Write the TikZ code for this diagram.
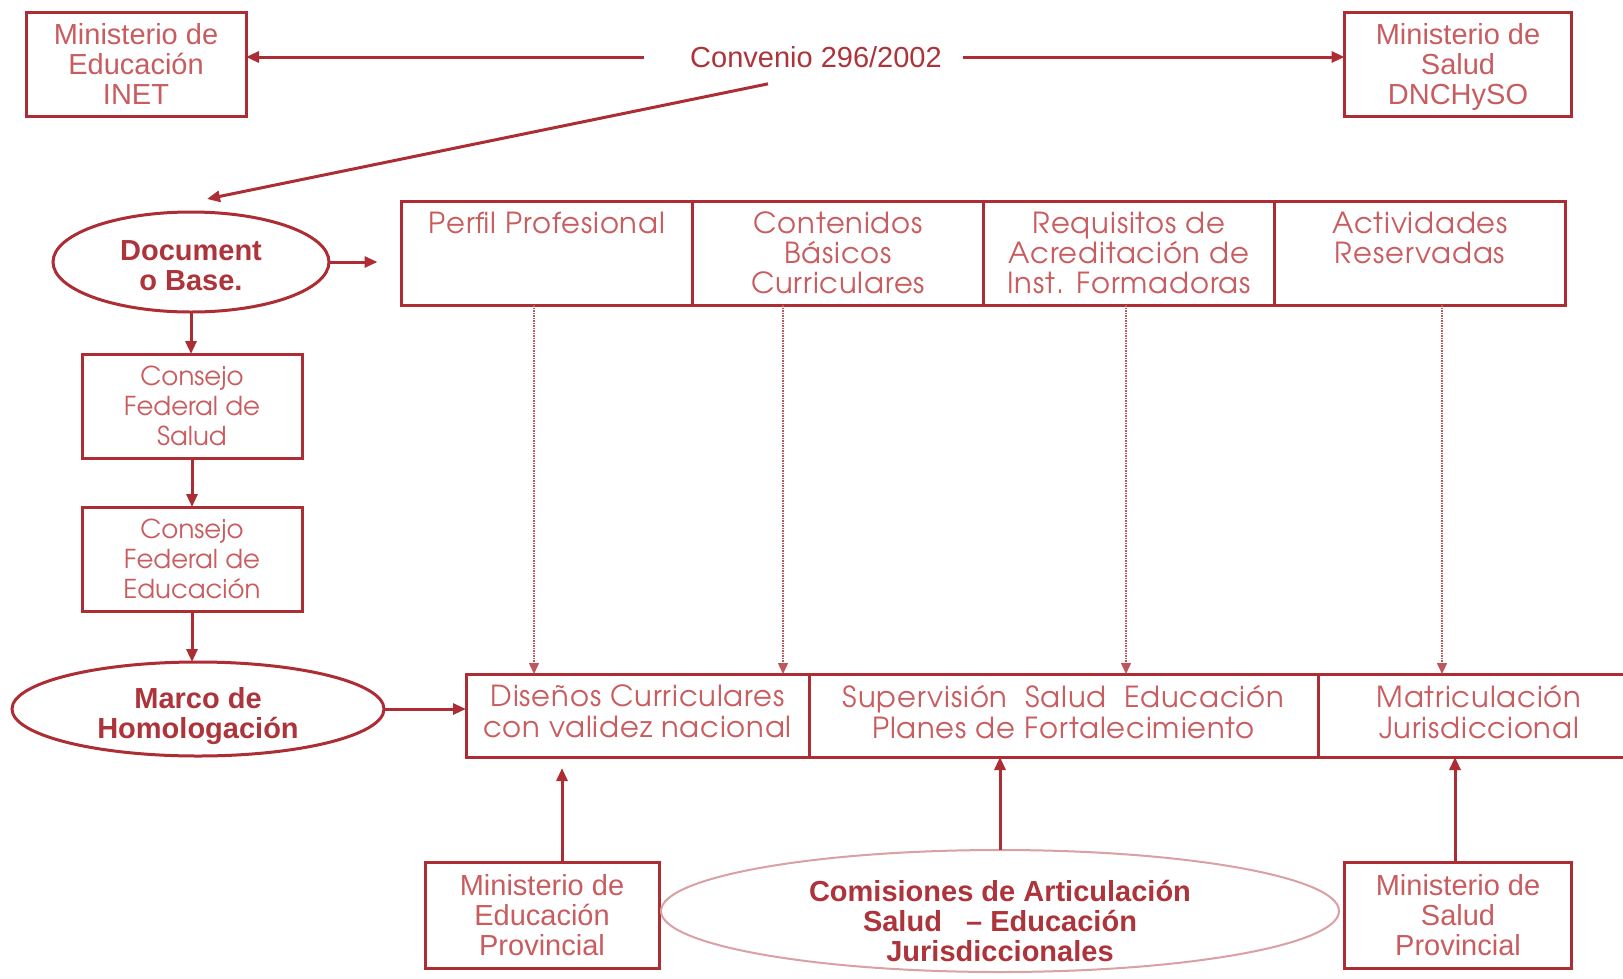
\documentclass[tikz,border=0pt]{standalone}
\usepackage{fontspec}
\setmainfont{Liberation Sans}
\newfontfamily\gothic{TeX Gyre Adventor}
\newfontfamily\gothicwide[LetterSpace=3]{TeX Gyre Adventor}
\usepackage{tikz}
\usetikzlibrary{positioning}
\usetikzlibrary{shapes.geometric}
\usetikzlibrary{arrows.meta}
\usetikzlibrary{calc}
\usepackage{xcolor}
\definecolor{frame}{RGB}{172,45,52}
\definecolor{ink}{RGB}{200,92,95}
\definecolor{inkdark}{RGB}{172,52,58}
\newcommand{\toptext}[1]{\parbox[c][82pt][t]{286pt}{\centering #1}}

\begin{document}
\begin{tikzpicture}[x=1pt, y=-1pt,
  mbox/.style={draw=frame, line width=3pt, minimum width=220pt, minimum height=104pt, align=center, inner sep=0pt, outer sep=0pt, text depth=0pt, text=ink, font=\fontsize{29}{30}\selectfont},
  cbox/.style={mbox, font=\gothic\fontsize{26}{30}\selectfont},
  oval/.style={ellipse, draw=frame, line width=3pt, align=center, inner sep=-25pt, outer sep=0pt, text=inkdark, font=\bfseries\fontsize{29}{30}\selectfont},
  topcell/.style={draw=frame, line width=3pt, minimum width=291pt, minimum height=104pt, inner sep=0pt, outer sep=0pt, text=ink, font=\gothicwide\fontsize{29}{30}\selectfont},
  lowcell/.style={draw=frame, line width=3pt, minimum height=83pt, align=center, inner sep=0pt, outer sep=0pt, text depth=8pt, text=ink, font=\gothicwide\fontsize{29}{31}\selectfont},
  arrow/.style={-{Triangle[length=13pt,width=11pt]}, draw=frame, line width=3pt},
  dotarrow/.style={-{Triangle[length=11pt,width=10pt]}, draw=frame!80, line width=1.5pt, densely dotted}
]
\useasboundingbox[fill=white] (0,0) rectangle (1623,978);

\node[mbox] (inet) at (136,64) {Ministerio de\\Educación\\INET};
\node[mbox, minimum width=227pt] (dnchyso) at (1458,64) {Ministerio de\\Salud\\DNCHySO};
\node[text=inkdark, font=\fontsize{29}{30}\selectfont, inner sep=0pt] (convenio) at (816,57) {Convenio 296/2002};

\node[oval, minimum width=276pt, minimum height=100pt] (doc) at (191,262) {\rule{0pt}{27pt}Document\\o Base.};
\node[topcell] (perfil) at (547,253) {\toptext{Perfil Profesional}};
\node[topcell, right=0pt of perfil] (contenidos) {\toptext{Contenidos\\Básicos\\Curriculares}};
\node[topcell, right=0pt of contenidos] (requisitos) {\toptext{Requisitos de\\Acreditación de\\Inst. Formadoras}};
\node[topcell, right=0pt of requisitos] (actividades) {\toptext{Actividades\\Reservadas}};

\node[cbox] (cfs) at (192,406) {Consejo\\Federal de\\Salud};
\node[cbox, below=49pt of cfs] (cfe) {Consejo\\Federal de\\Educación};
\node[oval, minimum width=372pt, minimum height=94pt] (marco) at (198,709) {\rule{0pt}{35pt}Marco de\\Homologación};

\node[lowcell, minimum width=343pt] (dis) at (637.5,715.5) {Diseños Curriculares\\con validez nacional};
\node[lowcell, minimum width=509pt, right=0pt of dis] (sup) {Supervisión\ \ Salud\ \ Educación\\Planes de Fortalecimiento};
\node[lowcell, minimum width=322pt, right=0pt of sup] (mat) {Matriculación\\Jurisdiccional};

\node[mbox, minimum width=234pt, minimum height=106pt] (mep) at (542,915) {Ministerio de\\Educación\\Provincial};
\node[oval, minimum width=678pt, minimum height=122pt, draw=frame!45, line width=2pt] (comisiones) at (1000,911) {\rule{0pt}{41pt}Comisiones de Articulación\\Salud\ \ \ – Educación\\Jurisdiccionales};
\node[mbox, minimum width=227pt, minimum height=106pt] (msp) at (1458,915) {Ministerio de\\Salud\\Provincial};

% convenio
\draw[arrow, shorten <=46pt] (convenio.west) -- (convenio.west -| inet.east);
\draw[arrow, shorten <=21pt] (convenio.east) -- (convenio.east -| dnchyso.west);
\draw[arrow] ($(convenio.south)+(-48,16)$) -- ($(doc.north)+(16,-13)$);

% left column
\draw[arrow, shorten >=24pt] (doc.east) -- (doc.east -| perfil.west);
\draw[arrow] (doc.south) -- (doc.south |- cfs.north);
\draw[arrow] (cfs) -- (cfe);
\draw[arrow] (cfe.south) -- (cfe.south |- marco.north);
\draw[arrow] (marco.east) -- (marco.east -| dis.west);

% dotted links
\draw[dotarrow] ([xshift=-13pt]perfil.south) -- ([xshift=-13pt]perfil.south |- dis.north);
\draw[dotarrow] ([xshift=-55pt]contenidos.south) -- ([xshift=-55pt]contenidos.south |- dis.north);
\draw[dotarrow] ([xshift=-3pt]requisitos.south) -- ([xshift=-3pt]requisitos.south |- sup.north);
\draw[dotarrow] ([xshift=22pt]actividades.south) -- ([xshift=22pt]actividades.south |- mat.north);

% bottom
\draw[arrow, shorten >=11pt] ([xshift=20pt]mep.north) -- ([xshift=20pt]mep.north |- dis.south);
\draw[arrow] (comisiones.north) -- (comisiones.north |- sup.south);
\draw[arrow] ([xshift=-3pt]msp.north) -- ([xshift=-3pt]msp.north |- mat.south);

\end{tikzpicture}
\end{document}
